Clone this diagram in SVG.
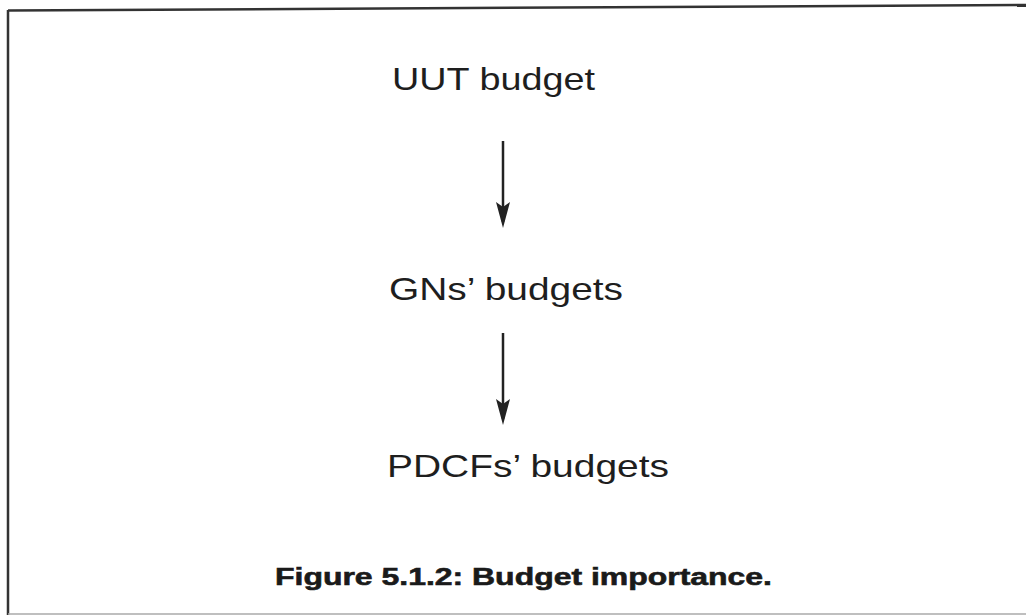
<svg xmlns="http://www.w3.org/2000/svg" width="1026" height="615" viewBox="0 0 1026 615">
  <style>
    .label { font-family: "Liberation Sans", Arial, sans-serif; font-size: 32px; fill: #1e1e1e; }
    .caption { font-family: "Liberation Sans", Arial, sans-serif; font-size: 24px; font-weight: bold; fill: #1a1a1a; stroke: #1a1a1a; stroke-width: 0.6; }
    .link { stroke: #222; stroke-width: 2.5; fill: none; }
    .frame { stroke: #333; stroke-width: 2.5; fill: none; }
  </style>
  <defs>
    <!-- slim filled arrowhead pointing along the line direction -->
    <marker id="arrowhead" viewBox="0 0 26 14" refX="20" refY="7" markerWidth="26" markerHeight="14" markerUnits="userSpaceOnUse" orient="auto">
      <path d="M0,0 L26,7 L0,14 L5,7 Z" fill="#222"/>
    </marker>
  </defs>
  <rect width="1026" height="615" fill="#fff"/>

  <!-- outer frame: slightly skewed top edge, left edge, faint bottom edge -->
  <g id="frame">
    <line class="frame" x1="8" y1="10.5" x2="1026" y2="5"/>
    <line class="frame" x1="8" y1="10" x2="8" y2="615"/>
    <line x1="8" y1="614" x2="1026" y2="614" stroke="#aaa" stroke-width="1.5"/>
  </g>

  <g id="connectors">
    <line class="link" x1="503" y1="141" x2="503" y2="222" marker-end="url(#arrowhead)"/>
    <line class="link" x1="503" y1="333" x2="503" y2="419" marker-end="url(#arrowhead)"/>
  </g>

  <g id="uut-budget">
    <text class="label" x="392" y="90" textLength="203" lengthAdjust="spacingAndGlyphs">UUT budget</text>
  </g>
  <g id="gns-budgets">
    <text class="label" x="389" y="300" textLength="234" lengthAdjust="spacingAndGlyphs">GNs’ budgets</text>
  </g>
  <g id="pdcfs-budgets">
    <text class="label" x="387" y="477" textLength="282" lengthAdjust="spacingAndGlyphs">PDCFs’ budgets</text>
  </g>

  <g id="caption">
    <text class="caption" x="275" y="585" textLength="497" lengthAdjust="spacingAndGlyphs">Figure 5.1.2: Budget importance.</text>
  </g>
</svg>
